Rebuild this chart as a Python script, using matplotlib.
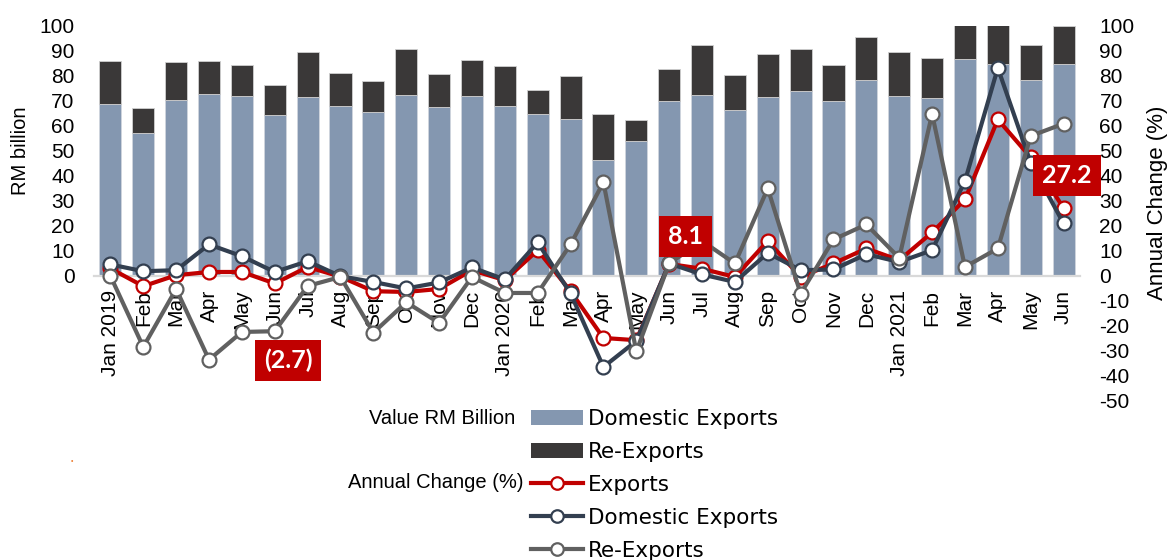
import numpy as np
import matplotlib.pyplot as plt
from matplotlib.patches import Patch
from matplotlib.lines import Line2D

plt.rcParams['font.family'] = ['Liberation Sans', 'DejaVu Sans']
plt.rcParams['axes.unicode_minus'] = False

# ---- data
months = ['Jan 2019', 'Feb', 'Mar', 'Apr', 'May', 'Jun', 'Jul', 'Aug', 'Sep', 'Oct', 'Nov', 'Dec',
          'Jan 2020', 'Feb', 'Mar', 'Apr', 'May', 'Jun', 'Jul', 'Aug', 'Sep', 'Oct', 'Nov', 'Dec',
          'Jan 2021', 'Feb', 'Mar', 'Apr', 'May', 'Jun']

total_exports = [86.0, 67.3, 85.6, 86.0, 84.5, 76.5, 89.6, 81.2, 78.1, 90.7, 80.8, 86.3,
                 84.0, 74.2, 79.8, 64.8, 62.5, 82.7, 92.5, 80.4, 88.7, 90.9, 84.5, 95.5,
                 89.5, 87.3, 108.8, 101.6, 92.3, 100.1]
domestic_exports = [68.8, 57.0, 70.4, 72.6, 72.1, 64.4, 71.6, 68.0, 65.4, 72.4, 67.7, 72.1,
                    68.0, 64.6, 62.9, 46.2, 54.1, 70.0, 72.4, 66.5, 71.6, 74.0, 69.8, 78.5,
                    72.1, 71.3, 86.9, 84.9, 78.5, 84.8]
re_exports = [t - d for t, d in zip(total_exports, domestic_exports)]

chg_exports = [3.0, -4.1, 0.3, 1.6, 1.6, -3.0, 3.6, -0.3, -6.1, -6.4, -5.2, 2.3,
               -1.7, 10.3, -6.1, -24.8, -25.7, 4.8, 2.9, -0.4, 14.0, -0.4, 5.0, 11.0,
               6.3, 17.4, 30.6, 62.6, 47.4, 27.2]
chg_domestic = [4.6, 1.9, 2.3, 12.6, 7.9, 1.6, 5.9, -0.1, -2.4, -5.0, -2.6, 3.4,
                -1.4, 13.4, -7.0, -36.4, -26.0, 5.0, 0.6, -2.4, 9.2, 2.3, 2.6, 8.7,
                5.6, 10.3, 38.0, 83.2, 45.3, 21.0]
chg_reexports = [0.0, -28.4, -5.2, -33.5, -22.4, -22.1, -4.0, -0.4, -22.7, -10.5, -18.8, -0.4,
                 -6.8, -6.8, 12.6, 37.5, -30.2, 5.0, 14.0, 5.0, 35.0, -7.1, 14.6, 20.6,
                 7.2, 64.8, 3.6, 11.0, 56.0, 60.9]

# callouts: (text, x position in month index, y value on right axis)
callouts = [('(2.7)', 5.4, -33.8), ('8.1', 17.5, 15.7), ('27.2', 29.1, 40.1)]

c_dom_bar = '#8497B0'
c_re_bar = '#3A3838'
c_exp = '#C00000'
c_dom = '#333F50'
c_re = '#606060'


def plot_chart(fig):
    ax = fig.add_axes([0.0802, 0.284, 0.8413, 0.6696])
    ax2 = ax.twinx()
    x = np.arange(len(months))

    ax.bar(x, domestic_exports, width=0.67, color=c_dom_bar, edgecolor='#D0D5DD', linewidth=0.6)
    ax.bar(x, re_exports, width=0.67, bottom=domestic_exports, color=c_re_bar,
           edgecolor='#D0D0D0', linewidth=0.6)

    ax.set_xlim(-0.5, len(months) - 0.5)
    ax.set_ylim(-50, 100)
    ax.set_yticks(np.arange(0, 101, 10))
    ax.set_xticks(x)
    ax.set_xticklabels(months)
    for s in ['top', 'left', 'right']:
        ax.spines[s].set_visible(False)
    ax.spines['bottom'].set_position(('data', 0))
    ax.spines['bottom'].set_color('#D9D9D9')
    ax.spines['bottom'].set_linewidth(1.6)
    ax.tick_params(axis='x', length=0, pad=10, labelsize=15, labelrotation=90)
    ax.tick_params(axis='y', length=0, pad=14, labelsize=15)
    ax.set_ylabel('RM billion', fontsize=14.5, va='center')
    ax.yaxis.set_label_coords(-0.075, 0.667)

    mk = dict(marker='o', markersize=10, markerfacecolor='white', markeredgewidth=1.6, linewidth=3)
    ax2.plot(x, chg_exports, color=c_exp, markeredgecolor=c_exp, **mk)
    ax2.plot(x, chg_domestic, color=c_dom, markeredgecolor=c_dom, **mk)
    ax2.plot(x, chg_reexports, color=c_re, markeredgecolor=c_re, **mk)

    ax2.set_ylim(-50, 100)
    ax2.set_yticks(np.arange(-50, 101, 10))
    for s in ax2.spines.values():
        s.set_visible(False)
    ax2.tick_params(axis='y', length=0, pad=14, labelsize=15)
    ax2.set_ylabel('Annual Change (%)', fontsize=16, rotation=90, va='center')
    ax2.yaxis.set_label_coords(1.079, 0.528)

    for txt, cx, cy in callouts:
        ax2.text(cx, cy, txt, color='white', fontsize=18, fontweight='bold', family='Lato',
                 ha='center', va='center', zorder=10,
                 bbox=dict(boxstyle='square,pad=0.36', facecolor=c_exp, edgecolor='none'))
    return ax, ax2


if __name__ == '__main__':
    fig = plt.figure(figsize=(11.72, 5.6), dpi=100)
    plot_chart(fig)

    handles = [Patch(facecolor=c_dom_bar),
               Patch(facecolor=c_re_bar),
               Line2D([], [], color=c_exp, lw=3, marker='o', ms=9, mfc='white', mec=c_exp, mew=1.6),
               Line2D([], [], color=c_dom, lw=3, marker='o', ms=9, mfc='white', mec=c_dom, mew=1.6),
               Line2D([], [], color=c_re, lw=3, marker='o', ms=9, mfc='white', mec=c_re, mew=1.6)]
    labels = ['Domestic Exports', 'Re-Exports', 'Exports', 'Domestic Exports', 'Re-Exports']
    fig.legend(handles, labels, loc='upper left', bbox_to_anchor=(531 / 1172, 1 - 409 / 560),
               frameon=False, borderpad=0, borderaxespad=0, handlelength=2.4, handleheight=0.7,
               handletextpad=0.25, labelspacing=0.6, prop={'family': 'DejaVu Sans', 'size': 15.5})

    fig.text(515 / 1172, 1 - 418 / 560, 'Value RM Billion', ha='right', va='center', fontsize=14.5)
    fig.text(523 / 1172, 1 - 483 / 560, 'Annual Change (%)', ha='right', va='center', fontsize=14.5)
    fig.text(72 / 1172, 1 - 462 / 560, '•', color='#ED7D31', fontsize=5, ha='center', va='center')

    plt.savefig('out.png', dpi=100)
